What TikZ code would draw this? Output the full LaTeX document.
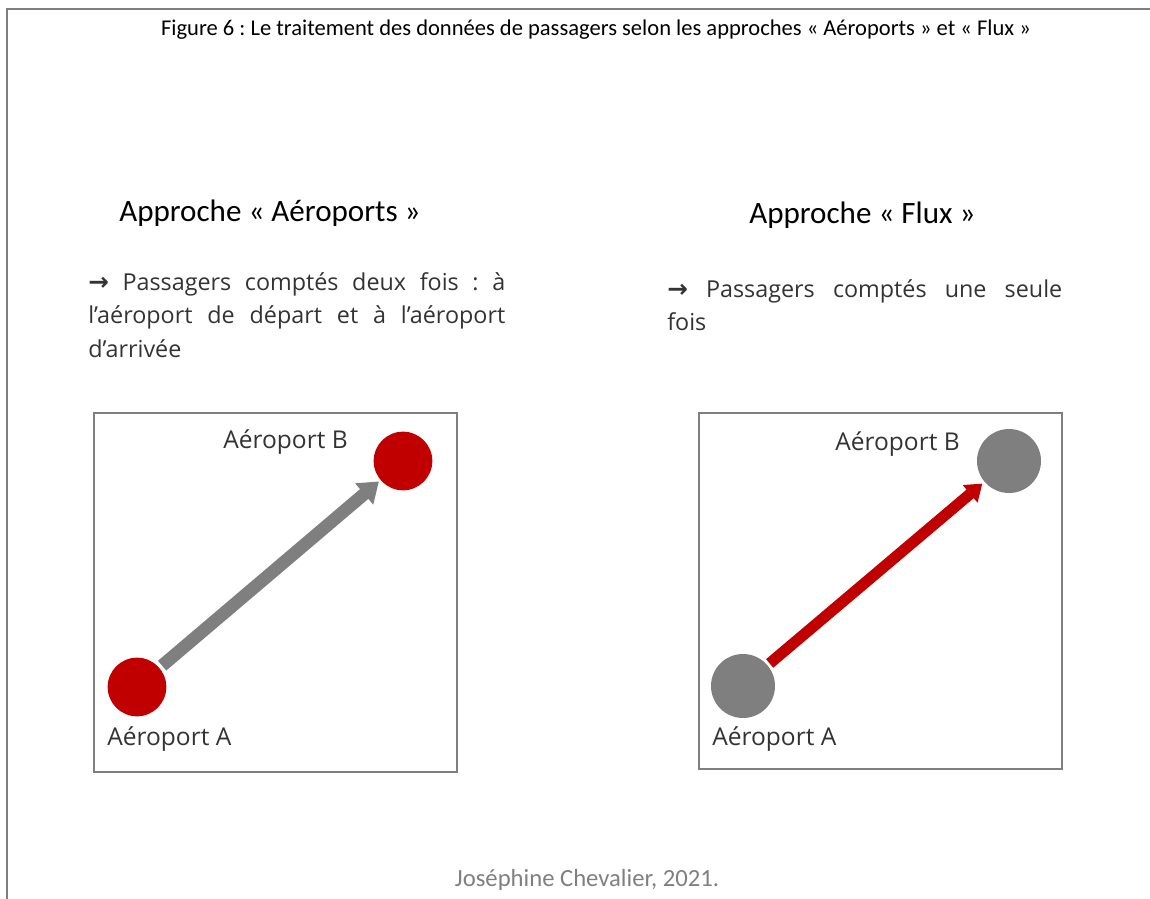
\documentclass[tikz,border=0pt]{standalone}
\usepackage{fontspec}
\setmainfont{Carlito}
\newfontfamily\bodyfont{Open Sans}
\newfontfamily\arrowfont{DejaVu Sans}
\usetikzlibrary{arrows.meta}
\definecolor{darkred}{HTML}{C00000}
\definecolor{midgray}{HTML}{7F7F7F}
\definecolor{textgray}{HTML}{333333}
\frenchspacing
\newcommand{\bulletarrow}{{\arrowfont\bfseries\fontsize{18.5}{25.1}\selectfont →}}
\begin{document}
\begin{tikzpicture}[x=0.75pt,y=-0.75pt,
  frameline/.style={draw=midgray,line width=1.5pt},
  panel/.style={draw=midgray,line width=1.2pt},
  redapt/.style={circle,fill=darkred,inner sep=0pt,minimum size=44pt},
  grayapt/.style={circle,fill=midgray,inner sep=0pt,minimum size=48pt},
  aptlabel/.style={font=\bodyfont\fontsize{18.4}{22}\selectfont,text=textgray,inner sep=0pt,anchor=base west},
  heading/.style={font=\fontsize{23.3}{28}\selectfont,inner sep=0pt,anchor=base west},
  bodytext/.style={font=\bodyfont\fontsize{17.5}{25.1}\selectfont,text=textgray,inner sep=0pt,align=justify,anchor=north west},
  grayflow/.style={draw=midgray,line width=9.6pt,-{Triangle[length=14.5pt,width=20pt]},shorten <=2.5pt,shorten >=1.5pt},
  redflow/.style={draw=darkred,line width=8.4pt,-{Triangle[length=12pt,width=16.5pt]},shorten <=2pt,shorten >=2pt}
]
\useasboundingbox (0,0) rectangle (1150,899);
% outer frame (top and left)
\coordinate (fbl) at (7,899);
\coordinate (ftl) at (7,9);
\coordinate (ftr) at (1150,9);
\draw[frameline] (fbl) -- (ftl) -- (ftr);
% title
\node[font=\fontsize{16.9}{20}\selectfont,inner sep=0pt,anchor=base] (title) at (596,36)
  {Figure 6 : Le traitement des données de passagers selon les approches « Aéroports » et « Flux »};
% headings
\node[heading] (h1) at (119,221) {Approche « Aéroports »};
\node[heading] (h2) at (749,223) {Approche « Flux »};
% body texts
\node[bodytext,text width=312.75pt] (t1) at (88,272)
  {\bulletarrow{} Passagers comptés deux fois : à\linebreak l’aéroport de départ et à l’aéroport\linebreak d’arrivée};
\node[bodytext,text width=296.25pt] (t2) at (667,279)
  {\bulletarrow{} Passagers comptés une seule\linebreak fois};
% panels
\node[panel,minimum width=272.25pt,minimum height=269.25pt,inner sep=0pt] (p1) at (275.5,592.5) {};
\node[panel,minimum width=272.25pt,minimum height=267pt,inner sep=0pt] (p2) at (880.5,591) {};
% left panel
\node[redapt] (a1) at (137,687) {};
\node[redapt] (b1) at (403,461) {};
\node[aptlabel] (la1) at (107,745) {Aéroport A};
\node[aptlabel] (lb1) at (223,448) {Aéroport B};
\draw[grayflow] (a1) -- (b1);
% right panel
\node[grayapt] (a2) at (743,686) {};
\node[grayapt] (b2) at (1009,461) {};
\node[aptlabel] (la2) at (712,745) {Aéroport A};
\node[aptlabel] (lb2) at (835,450) {Aéroport B};
\draw[redflow] (a2) -- (b2);
% footer
\node[font=\fontsize{18.5}{22}\selectfont,text=midgray,inner sep=0pt,anchor=base] (credit) at (587,886) {Joséphine Chevalier, 2021.};
\end{tikzpicture}
\end{document}
